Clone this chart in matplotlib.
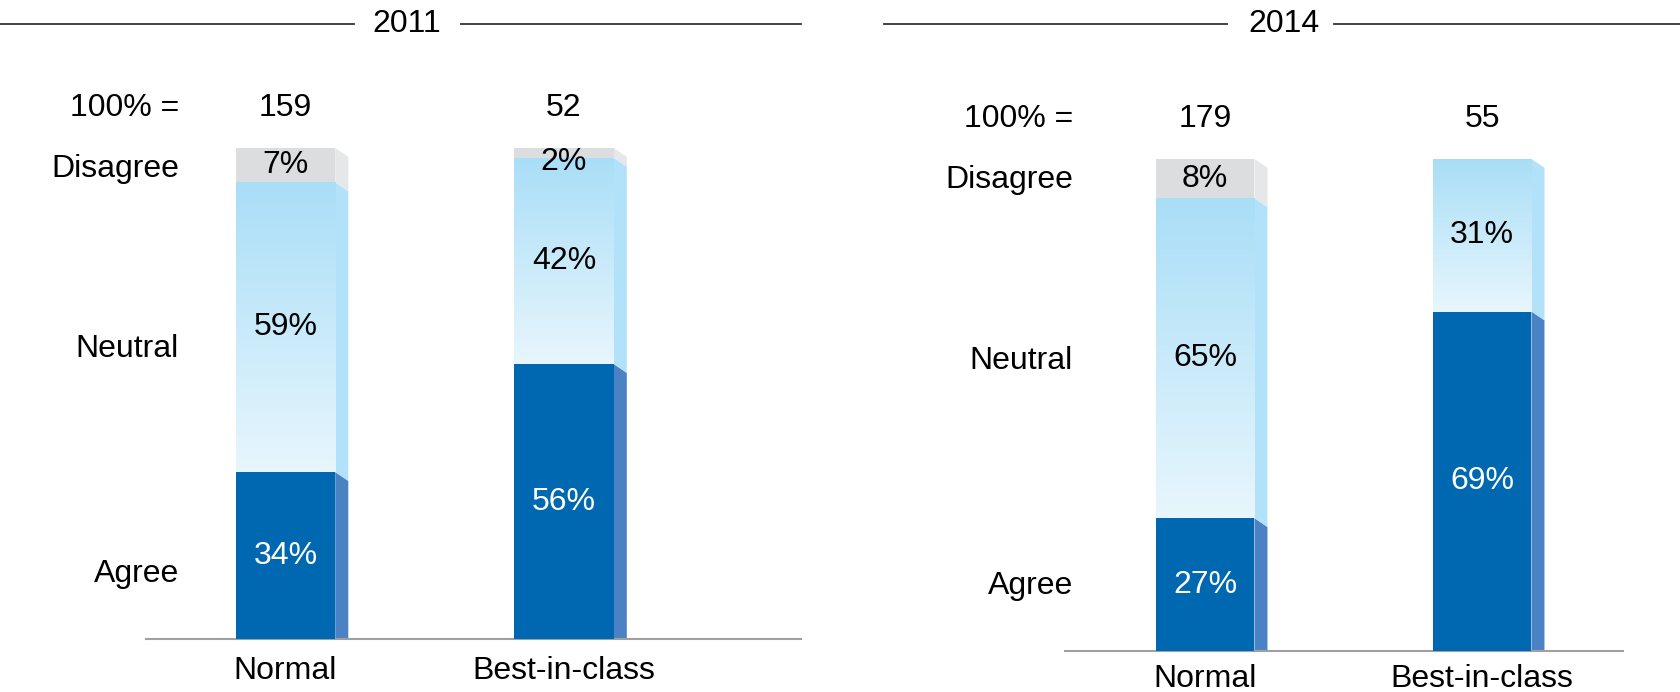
import numpy as np
import matplotlib
matplotlib.use("Agg")
import matplotlib.pyplot as plt
from matplotlib.patches import Polygon
from matplotlib.colors import LinearSegmentedColormap
from matplotlib.lines import Line2D

plt.rcParams['font.family'] = ['Liberation Sans', 'DejaVu Sans']

categories = ['Normal', 'Best-in-class']
years = ['2011', '2014']
totals = [[159, 52], [179, 55]]
agree = [[34, 56], [27, 69]]
neutral = [[59, 42], [65, 31]]
disagree = [[7, 2], [8, 0]]
row_labels = ['Disagree', 'Neutral', 'Agree']

DARK = '#0068b0'
DARK_SIDE = '#4a82c3'
LIGHT_SIDE = '#b2e2f9'
GREY = '#dcdddf'
GREY_SIDE = '#e6e7e8'
grad = LinearSegmentedColormap.from_list('neutral', ['#e8f6fd', '#a9def7'])

FS = 23
W = 0.357      # bar width
DX = 0.047     # side face depth
DY = 1.8       # side face drop

fig = plt.figure(figsize=(16.8, 6.92), dpi=100)

panels = [
    dict(rect=[146/1680, 1 - 639/692, 655/1680, 491/692], xlim=(-0.5009, 1.851),
         lab_x=-0.382, cat_y=-6.6, title_x=407/1680, lines=[(0, 354), (461, 801)]),
    dict(rect=[1065/1680, 1 - 651/692, 558/1680, 492/692], xlim=(-0.5054, 1.509),
         lab_x=-0.477, cat_y=-5.7, title_x=1284/1680, lines=[(884, 1227), (1334, 1680)]),
]


def side_face(ax, x, y0, y1, color):
    # slanted right-hand face of a bar segment
    lo = 0 if y0 == 0 else y0 - DY
    pts = [(x, y0), (x, y1), (x + DX, y1 - DY), (x + DX, lo)]
    ax.add_patch(Polygon(pts, closed=True, facecolor=color, edgecolor='none', zorder=2))


for p, year, tot, ag, ne, di in zip(panels, years, totals, agree, neutral, disagree):
    ax = fig.add_axes(p['rect'])
    for i in range(len(categories)):
        x0 = i - W / 2
        x1 = i + W / 2
        a, n, d = ag[i], ne[i], di[i]
        # agree
        ax.bar(i, a, width=W, color=DARK, zorder=3)
        side_face(ax, x1, 0, a, DARK_SIDE)
        # neutral, gradient fill
        g = np.linspace(0, 1, 256).reshape(-1, 1)
        ax.imshow(g, extent=[x0, x1, a, a + n], origin='lower', cmap=grad,
                  aspect='auto', interpolation='bilinear', zorder=3)
        side_face(ax, x1, a, a + n, LIGHT_SIDE)
        # disagree
        if d > 0:
            ax.bar(i, d, bottom=a + n, width=W, color=GREY, zorder=3)
            side_face(ax, x1, a + n, a + n + d, GREY_SIDE)
            ax.text(i, min(a + n + d / 2, 97.2), f'{d}%', ha='center', va='center',
                    fontsize=FS, color='black', zorder=5)
        ax.text(i, a / 2, f'{a}%', ha='center', va='center', fontsize=FS,
                color='white', zorder=5)
        ax.text(i, a + n / 2, f'{n}%', ha='center', va='center', fontsize=FS,
                color='black', zorder=5)
        ax.text(i, 108.2, str(tot[i]), ha='center', va='center', fontsize=FS,
                clip_on=False)
        ax.text(i, p['cat_y'], categories[i], ha='center', va='center',
                fontsize=FS, clip_on=False)

    ax.text(p['lab_x'], 108.2, '100% =', ha='right', va='center', fontsize=FS)
    for lab, y in zip(row_labels, [95.8, 59, 13.3]):
        ax.text(p['lab_x'], y, lab, ha='right', va='center', fontsize=FS)

    ax.set_xlim(*p['xlim'])
    ax.set_ylim(0, 100)
    for s in ['top', 'left', 'right']:
        ax.spines[s].set_visible(False)
    ax.spines['bottom'].set_color('#a0a0a0')
    ax.spines['bottom'].set_linewidth(1.5)
    ax.set_xticks([])
    ax.set_yticks([])
    ax.patch.set_alpha(0)

    # year header with rules either side
    ty = 1 - 23.5/692
    fig.text(p['title_x'], ty, year, ha='center', va='center', fontsize=FS,
             family=['Liberation Sans Narrow', 'Liberation Sans', 'DejaVu Sans'])
    for a0, a1 in p['lines']:
        fig.add_artist(Line2D([a0/1680, a1/1680], [ty, ty], color='#333333', lw=1.3))

fig.savefig('out.png', dpi=100)
